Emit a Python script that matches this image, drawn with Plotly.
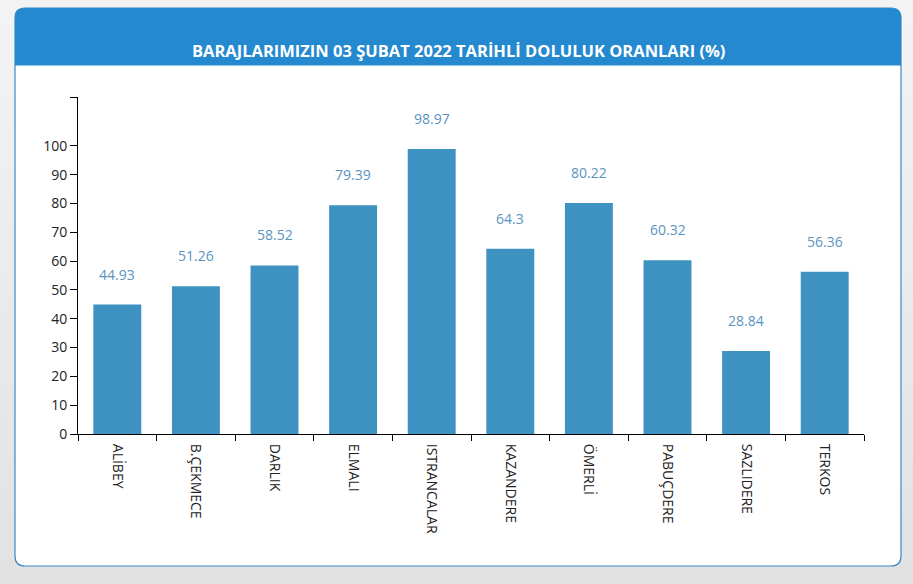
import plotly.graph_objects as go

categories = ["ALİBEY", "B.ÇEKMECE", "DARLIK", "ELMALI", "ISTRANCALAR",
              "KAZANDERE", "ÖMERLİ", "PABUÇDERE", "SAZLIDERE", "TERKOS"]
values = [44.93, 51.26, 58.52, 79.39, 98.97, 64.3, 80.22, 60.32, 28.84, 56.36]
value_labels = ["44.93", "51.26", "58.52", "79.39", "98.97", "64.3", "80.22", "60.32", "28.84", "56.36"]
y_ticks = [0, 10, 20, 30, 40, 50, 60, 70, 80, 90, 100]
title_text = "BARAJLARIMIZIN 03 ŞUBAT 2022 TARİHLİ DOLULUK ORANLARI (%)"

W, H = 913, 584
L, R, T, B = 78, 864, 97, 434  # plot area in pixels

def px(x):
    return (x - L) / (R - L)

def py(y):
    return (B - y) / (B - T)

fig = go.Figure()
fig.add_trace(go.Bar(
    x=categories, y=values,
    marker=dict(color="#3d92c1", line=dict(width=0)),
    hoverinfo="x+y",
))

for c, v, t in zip(categories, values, value_labels):
    fig.add_annotation(x=c, y=v, text=t, showarrow=False, yanchor="bottom",
                       yshift=19, font=dict(family="Open Sans", size=14, color="#5b93bf"))

def rounded_rect(x0, y0, x1, y1, r, top_only=False):
    rx = r / (R - L)
    ry = r / (B - T)
    X0, X1 = px(x0), px(x1)
    Y0, Y1 = py(y0), py(y1)
    p = f"M {X0} {Y0 - ry} Q {X0} {Y0} {X0 + rx} {Y0} L {X1 - rx} {Y0} Q {X1} {Y0} {X1} {Y0 - ry} "
    if not top_only:
        p += f"L {X1} {Y1 + ry} Q {X1} {Y1} {X1 - rx} {Y1} L {X0 + rx} {Y1} Q {X0} {Y1} {X0} {Y1 + ry} Z"
    else:
        p += f"L {X1} {Y1} L {X0} {Y1} Z"
    return p

shapes = []
# smooth-ish vertical background gradient
n = 24
for i in range(n):
    y0 = H * i / n
    y1 = H * (i + 1) / n
    g = int(round(0xf3 - (0xf3 - 0xe2) * i / (n - 1)))
    shapes.append(dict(type="rect", xref="paper", yref="paper", layer="below",
                       x0=px(0), x1=px(W), y0=py(y1 + 0.5), y1=py(y0),
                       fillcolor=f"rgb({g},{g},{g})", line=dict(width=0)))
shapes += [
    dict(type="path", xref="paper", yref="paper", layer="below",
         path=rounded_rect(15, 8, 901, 566, 10),
         fillcolor="white", line=dict(color="#3d87c4", width=1.2)),
    dict(type="path", xref="paper", yref="paper", layer="below",
         path=rounded_rect(15, 8, 901, 65.5, 10, top_only=True),
         fillcolor="#2589cf", line=dict(width=0)),
]

fig.add_annotation(xref="paper", yref="paper", x=px(458), y=py(37), text=f"<b>{title_text}</b>",
                   showarrow=False, font=dict(family="Open Sans", size=16.5, color="white"))

fig.update_layout(
    width=W, height=H,
    margin=dict(l=L, r=W - R, t=T, b=H - B, pad=0),
    paper_bgcolor="#ebebeb",
    plot_bgcolor="rgba(0,0,0,0)",
    shapes=shapes,
    bargap=0.39,
    showlegend=False,
    xaxis=dict(
        type="category", tickson="boundaries", ticks="outside", ticklen=6,
        tickcolor="#000", tickwidth=1, showline=True, linecolor="#000", linewidth=1,
        tickangle=90, showgrid=False, zeroline=False, ticklabelstandoff=6,
        tickfont=dict(family="Open Sans", size=14, color="#222"),
        range=[-0.5, 9.5],
    ),
    yaxis=dict(
        range=[0, 117], tickvals=y_ticks + [117], ticktext=[str(v) for v in y_ticks] + [""],
        ticks="outside", ticklen=7, tickcolor="#000", tickwidth=1,
        showline=True, linecolor="#000", linewidth=1, showgrid=False, zeroline=False,
        tickfont=dict(family="Open Sans", size=14, color="#222"),
    ),
)

fig.write_html("out.html", config={"displayModeBar": False},
               post_script="document.body.style.margin='0';document.body.style.overflow='hidden';")
